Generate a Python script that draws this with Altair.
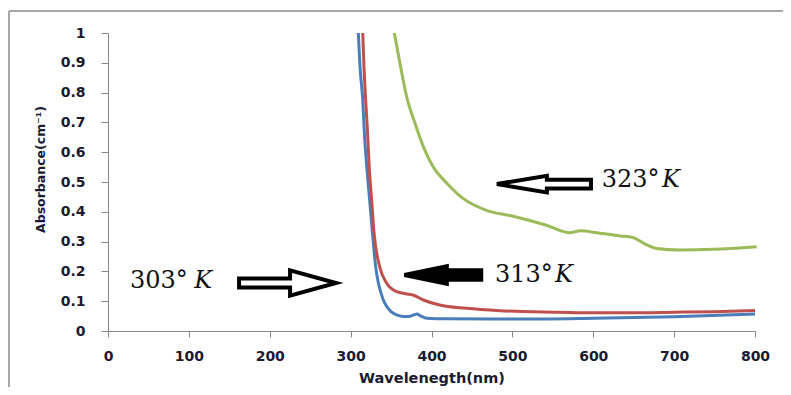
import altair as alt
import pandas as pd

# ---- data ----
blue_nm = [309.5, 311.6, 315, 317, 320, 323.5, 327, 331, 334, 337.6, 341, 345, 350, 357, 365, 372, 378, 382, 387, 394, 420, 500, 600, 700, 800]
blue_abs = [1.0, 0.887, 0.775, 0.664, 0.55, 0.44, 0.329, 0.215, 0.165, 0.127, 0.10, 0.081, 0.065, 0.054, 0.049, 0.049, 0.054, 0.057, 0.05, 0.043, 0.041, 0.040, 0.043, 0.048, 0.057]

red_nm = [315, 316.5, 318.6, 321, 323, 326, 329, 336, 344.6, 357, 368, 377, 390, 410, 443, 485, 550, 600, 650, 700, 750, 800]
red_abs = [1.0, 0.887, 0.775, 0.664, 0.55, 0.44, 0.329, 0.215, 0.16, 0.132, 0.125, 0.121, 0.104, 0.087, 0.076, 0.068, 0.063, 0.061, 0.061, 0.063, 0.065, 0.069]

green_nm = [354, 361, 369.3, 379.6, 390, 402, 419, 439, 468, 501, 542, 571, 584, 604, 633, 649, 666, 678, 707, 748, 802]
green_abs = [1.0, 0.898, 0.786, 0.697, 0.618, 0.551, 0.496, 0.445, 0.405, 0.385, 0.355, 0.33, 0.336, 0.33, 0.319, 0.314, 0.289, 0.277, 0.272, 0.274, 0.283]

series_names = ["303", "313", "323"]
series_colors = ["#4A7EBB", "#C0504D", "#9BBB59"]

x_ticks = [0, 100, 200, 300, 400, 500, 600, 700, 800]
y_ticks = [0, 0.1, 0.2, 0.3, 0.4, 0.5, 0.6, 0.7, 0.8, 0.9, 1.0]

# annotation labels (data coordinates)
label_num = ["303°", "313°", "323°"]
label_nm = [27.2, 478.5, 610.4]
label_abs = [0.144, 0.163, 0.484]
label_k_nm = [106.5, 552.7, 685]

# arrows (center in data coordinates)
arrow_nm = [222, 414, 539]
arrow_abs = [0.161, 0.188, 0.493]
arrow_size = [10201, 6400, 9604]
arrow_fill = ["white", "black", "white"]
arrow_path = [
    "M-0.96,-0.09L0.05,-0.09L0.05,-0.25L0.96,0L0.05,0.25L0.05,0.09L-0.96,0.09Z",
    "M0.96,-0.12L0.1,-0.12L0.1,-0.22L-0.96,0L0.1,0.22L0.1,0.12L0.96,0.12Z",
    "M0.96,-0.09L0.06,-0.09L0.06,-0.17L-0.96,0L0.06,0.17L0.06,0.09L0.96,0.09Z",
]

rows = []
for name, xs, ys in zip(series_names, [blue_nm, red_nm, green_nm], [blue_abs, red_abs, green_abs]):
    for i, (a, b) in enumerate(zip(xs, ys)):
        rows.append({"series": name, "nm": a, "abs": b, "order": i})
df = pd.DataFrame(rows)

xscale = alt.Scale(domain=[0, 800], nice=False, zero=False)
yscale = alt.Scale(domain=[0, 1], nice=False, zero=False)
axis_col = "#888888"
lab_col = "#1a1a30"

x_axis = alt.Axis(values=x_ticks, title="Wavelenegth(nm)", grid=False,
                  domainColor=axis_col, tickColor=axis_col, tickSize=6,
                  labelPadding=12, labelFont="DejaVu Sans", labelFontSize=14,
                  labelFontWeight="bold", labelColor=lab_col, labelFlush=False,
                  labelOverlap=False,
                  titleFont="DejaVu Sans", titleFontSize=14.5, titleFontWeight="bold",
                  titleColor=lab_col, titleY=47, titleBaseline="middle")
y_axis = alt.Axis(values=y_ticks, format=".1~f", title="Absorbance(cm⁻¹)", grid=False,
                  domainColor=axis_col, tickColor=axis_col, tickSize=7,
                  labelPadding=16, labelFont="DejaVu Sans", labelFontSize=14,
                  labelFontWeight="bold", labelColor=lab_col, labelFlush=False,
                  labelOverlap=False,
                  titleFont="DejaVu Sans", titleFontSize=12.5, titleFontWeight="bold",
                  titleColor=lab_col, titleX=-68, titleY=136, titleAngle=-90,
                  titleAlign="center", titleBaseline="middle")

lines = alt.Chart(df).mark_line(strokeWidth=3, interpolate="monotone").encode(
    x=alt.X("nm:Q", scale=xscale, axis=x_axis),
    y=alt.Y("abs:Q", scale=yscale, axis=y_axis),
    color=alt.Color("series:N", scale=alt.Scale(domain=series_names, range=series_colors), legend=None),
    order="order:Q",
)

ann = pd.DataFrame({"t": label_num, "nm": label_nm, "abs": label_abs, "knm": label_k_nm})
nums = alt.Chart(ann).mark_text(font="DejaVu Serif", fontSize=24, align="left",
                                baseline="alphabetic", color="#111111").encode(
    x=alt.X("nm:Q", scale=xscale, axis=x_axis), y=alt.Y("abs:Q", scale=yscale, axis=y_axis), text="t:N")
ks = alt.Chart(ann).mark_text(font="DejaVu Serif", fontSize=24, fontStyle="italic", align="left",
                              baseline="alphabetic", color="#111111").encode(
    x=alt.X("knm:Q", scale=xscale, axis=x_axis), y=alt.Y("abs:Q", scale=yscale, axis=y_axis),
    text=alt.value("K"))

arrows = []
for i in range(3):
    adf = pd.DataFrame({"nm": [arrow_nm[i]], "abs": [arrow_abs[i]]})
    arrows.append(alt.Chart(adf).mark_point(shape=arrow_path[i], size=arrow_size[i], filled=True,
                                            fill=arrow_fill[i], stroke="black", strokeWidth=4,
                                            opacity=1, fillOpacity=1).encode(
        x=alt.X("nm:Q", scale=xscale, axis=x_axis), y=alt.Y("abs:Q", scale=yscale, axis=y_axis)))

frame_df = pd.DataFrame({"k": [0]})
frame_left = alt.Chart(frame_df).mark_rule(color="#a6a6a6", strokeWidth=2).encode(
    x=alt.value(-99), y=alt.value(-22), y2=alt.value(360))
frame_top = alt.Chart(frame_df).mark_rule(color="#a6a6a6", strokeWidth=2).encode(
    x=alt.value(-99), x2=alt.value(700), y=alt.value(-22))

chart = alt.layer(frame_left, frame_top, lines, *arrows, nums, ks).properties(
    width=647, height=298,
    autosize=alt.AutoSizeParams(type="none"),
    padding={"left": 100, "top": 25, "right": 28, "bottom": 56},
).configure_view(stroke=None)

chart.save("out.html", embed_options={"renderer": "svg", "actions": False})
